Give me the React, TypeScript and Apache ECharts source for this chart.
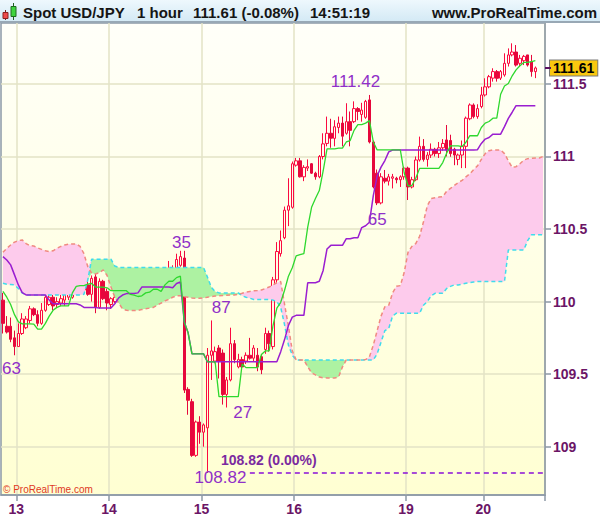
import React, { useEffect, useRef } from 'react';
import * as echarts from 'echarts';

const FF = '"Liberation Sans", Arial, Helvetica, sans-serif';

// ---- axis / category data ----
const slotCount = 141;
const dayLabels = ['13', '14', '15', '16', '19', '20'];
const dayStartIndex = [4, 28, 52, 76, 105, 125];
const yTicks = [109, 109.5, 110, 110.5, 111, 111.5];

// ---- hourly candles ----
const opens = [
  110.01, 109.83, 109.83, 109.75, 109.69, 109.78, 109.82, 109.87, 109.95, 109.91,
  109.85, 109.94, 109.98, 110.03, 109.98, 109.99, 110.01, 110.03, 110.03, 110.25,
  110.16, 110.08, 110.115, 110.05, 110.17, 109.96, 110.14, 110.07, 109.98, 110.0,
  110.01, 110.09, 110.07, 110.08, 110.06, 110.09, 110.07, 110.08, 110.06, 110.1,
  110.07, 110.05, 110.05, 110.18, 110.19, 110.22, 110.25, 110.3, 109.395, 109.31,
  108.94, 109.17, 109.1, 109.13, 109.63, 109.59, 109.68, 109.645, 109.36, 109.46,
  109.71, 109.55, 109.6, 109.59, 109.63, 109.61, 109.63, 109.62, 109.67, 109.78,
  109.69, 110.15, 110.33, 110.44, 110.63, 110.65, 110.94, 110.97, 110.86, 110.92,
  110.95, 110.885, 110.86, 111.0, 111.09, 111.16, 111.125, 111.2, 111.23, 111.16,
  111.24, 111.24, 111.33, 111.29, 111.27, 111.39, 111.1, 110.885, 110.68, 110.85,
  110.83, 110.85, 110.85, 110.84, 110.86, 110.92, 110.79, 110.84, 110.976, 111.07,
  110.98, 111.01, 111.05, 111.02, 111.06, 111.114, 111.11, 111.05, 110.98, 111.01,
  111.07, 111.26, 111.355, 111.275, 111.344, 111.424, 111.48, 111.54, 111.585, 111.54,
  111.562, 111.642, 111.7, 111.72, 111.642, 111.66, 111.7, 111.653, 111.585,
];
const closes = [
  109.85, 109.79, 109.74, 109.69, 109.78, 109.88, 109.88, 109.95, 109.91, 109.85,
  109.94, 110.03, 110.03, 109.97, 110.0, 110.02, 110.05, 110.05, 110.25, 110.16,
  110.09, 110.115, 110.05, 110.16, 109.96, 110.14, 110.02, 109.99, 110.02, 110.03,
  110.08, 110.07, 110.09, 110.06, 110.09, 110.07, 110.08, 110.06, 110.1, 110.07,
  110.1, 110.09, 110.18, 110.22, 110.22, 110.29, 110.31, 109.39, 109.32, 108.94,
  109.17, 109.1, 109.15, 109.63, 109.66, 109.655, 109.59, 109.36, 109.46, 109.71,
  109.6, 109.6, 109.55, 109.63, 109.61, 109.68, 109.55, 109.53, 109.78, 109.71,
  110.15, 110.345, 110.42, 110.63, 110.66, 110.95, 110.97, 110.86, 110.925, 110.93,
  110.885, 110.86, 111.0, 111.087, 111.16, 111.126, 111.205, 111.23, 111.14, 111.24,
  111.18, 111.33, 111.31, 111.32, 111.38, 111.1, 110.79, 110.68, 110.86, 110.83,
  110.86, 110.86, 110.84, 110.86, 110.92, 110.79, 110.84, 110.976, 111.07, 110.98,
  111.01, 111.05, 111.02, 111.06, 111.09, 111.045, 111.02, 111.01, 111.01, 111.07,
  111.264, 111.355, 111.275, 111.33, 111.424, 111.48, 111.55, 111.585, 111.539, 111.585,
  111.642, 111.7, 111.72, 111.63, 111.677, 111.69, 111.63, 111.585, 111.61,
];
const highs = [
  110.06, 109.9, 109.89, 109.8, 109.85, 109.92, 109.9, 109.97, 109.96, 109.94,
  109.99, 110.07, 110.115, 110.07, 110.03, 110.05, 110.07, 110.06, 110.28, 110.27,
  110.18, 110.13, 110.14, 110.18, 110.23, 110.16, 110.15, 110.09, 110.03, 110.05,
  110.115, 110.1, 110.1, 110.11, 110.13, 110.12, 110.1, 110.1, 110.13, 110.14,
  110.12, 110.1, 110.23, 110.28, 110.25, 110.33, 110.35, 110.35, 109.41, 109.33,
  109.18, 109.21, 109.16, 109.68, 109.87, 109.69, 109.7, 109.67, 109.48, 109.82,
  109.735, 109.64, 109.62, 109.65, 109.75, 109.7, 109.68, 109.63, 109.82, 109.8,
  110.17, 110.41, 110.49, 110.655, 110.85, 110.965, 110.99, 110.99, 110.94, 110.98,
  110.955, 110.895, 111.01, 111.16, 111.275, 111.26, 111.25, 111.275, 111.275, 111.367,
  111.31, 111.38, 111.34, 111.37, 111.39, 111.424, 111.11, 110.91, 110.885, 110.907,
  110.88, 110.88, 110.86, 110.87, 110.93, 110.93, 110.86, 111.0, 111.137, 111.12,
  111.03, 111.09, 111.06, 111.1, 111.12, 111.217, 111.15, 111.06, 111.02, 111.11,
  111.275, 111.366, 111.366, 111.36, 111.48, 111.539, 111.562, 111.608, 111.596, 111.596,
  111.711, 111.745, 111.78, 111.768, 111.7, 111.7, 111.7, 111.7, 111.62,
];
const lows = [
  109.78, 109.78, 109.72, 109.63, 109.69, 109.77, 109.81, 109.85, 109.9, 109.83,
  109.84, 109.93, 109.97, 109.94, 109.96, 109.97, 109.97, 110.01, 110.02, 110.09,
  110.08, 110.07, 110.04, 110.0, 109.92, 109.95, 110.01, 109.94, 109.95, 109.99,
  110.0, 110.05, 110.06, 110.04, 110.05, 110.05, 110.04, 110.03, 110.05, 110.05,
  110.06, 110.0, 110.03, 110.17, 110.18, 110.22, 110.24, 109.37, 109.22, 108.93,
  108.93, 109.02, 109.0, 108.82, 109.46, 109.575, 109.47, 109.29, 109.27, 109.45,
  109.575, 109.54, 109.54, 109.57, 109.6, 109.59, 109.52, 109.5, 109.64, 109.655,
  109.67, 110.035, 110.31, 110.43, 110.52, 110.64, 110.93, 110.855, 110.83, 110.9,
  110.88, 110.84, 110.85, 110.98, 111.07, 111.06, 111.07, 111.16, 111.07, 111.15,
  111.07, 111.23, 111.25, 111.24, 111.26, 111.09, 110.78, 110.665, 110.67, 110.815,
  110.8, 110.78, 110.815, 110.79, 110.84, 110.7, 110.78, 110.83, 110.965, 110.965,
  110.93, 110.99, 111.0, 110.99, 111.04, 111.0, 110.998, 110.94, 110.94, 110.92,
  110.92, 111.25, 111.263, 111.26, 111.332, 111.413, 111.47, 111.516, 111.516, 111.527,
  111.55, 111.62, 111.69, 111.62, 111.62, 111.63, 111.62, 111.55, 111.54,
];

// ---- Ichimoku lines ----
const tenkan = [
  110.07, 110.03, 109.98, 109.91, 109.86, 109.846, 109.846, 109.846, 109.845, 109.81,
  109.81, 109.85, 109.9, 109.94, 109.96, 109.97, 109.97, 109.97, 110.06, 110.105,
  110.11, 110.11, 110.12, 110.125, 110.1, 110.1, 110.1, 110.095, 110.075, 110.075,
  110.075, 110.075, 110.075, 110.05, 110.045, 110.035, 110.04, 110.06, 110.065, 110.085,
  110.085, 110.07, 110.115, 110.14, 110.14, 110.165, 110.175, 109.86, 109.785, 109.64,
  109.64, 109.64, 109.64, 109.585, 109.585, 109.585, 109.345, 109.345, 109.345, 109.345,
  109.345, 109.345, 109.57, 109.545, 109.545, 109.545, 109.545, 109.635, 109.66, 109.66,
  109.835, 109.955, 109.995, 110.078, 110.175, 110.233, 110.315, 110.323, 110.33, 110.513,
  110.65, 110.71, 110.765, 110.9, 111.053, 111.053, 111.053, 111.058, 111.058, 111.1,
  111.11, 111.18, 111.22, 111.22, 111.23, 111.247, 111.1, 111.045, 111.045, 111.045,
  111.045, 111.045, 111.045, 111.045, 110.888, 110.798, 110.8, 110.85, 110.918, 110.918,
  110.918, 110.918, 110.918, 110.918, 110.958, 111.023, 111.073, 111.073, 111.073, 111.068,
  111.098, 111.143, 111.143, 111.143, 111.2, 111.23, 111.241, 111.264, 111.264, 111.429,
  111.486, 111.503, 111.556, 111.597, 111.625, 111.648, 111.648, 111.654, 111.66,
];
const kijun = [
  110.31, 110.287, 110.253, 110.184, 110.115, 110.062, 110.046, 110.046, 110.046, 110.046,
  110.046, 110.046, 110.01, 109.985, 109.985, 109.985, 109.985, 109.985, 109.985, 109.985,
  109.977, 109.96, 109.96, 109.96, 109.96, 109.955, 109.955, 109.955, 109.955, 109.985,
  110.025, 110.045, 110.055, 110.055, 110.055, 110.06, 110.1, 110.1, 110.1, 110.1,
  110.1, 110.1, 110.1, 110.1, 110.095, 110.125, 110.135, 109.86, 109.785, 109.64,
  109.64, 109.64, 109.64, 109.585, 109.585, 109.585, 109.585, 109.585, 109.585, 109.585,
  109.585, 109.585, 109.585, 109.585, 109.585, 109.585, 109.585, 109.585, 109.585, 109.585,
  109.585, 109.585, 109.655, 109.738, 109.835, 109.893, 109.905, 109.905, 109.905, 110.13,
  110.13, 110.13, 110.14, 110.215, 110.3625, 110.3875, 110.3875, 110.3875, 110.3875, 110.4335,
  110.4335, 110.44, 110.44, 110.51, 110.5225, 110.547, 110.73, 110.867, 110.927, 110.972,
  111.032, 111.045, 111.045, 111.045, 111.045, 111.045, 111.045, 111.045, 111.045, 111.045,
  111.045, 111.045, 111.045, 111.045, 111.045, 111.045, 111.045, 111.045, 111.045, 111.045,
  111.045, 111.045, 111.045, 111.047, 111.09, 111.12, 111.131, 111.154, 111.154, 111.154,
  111.2055, 111.2625, 111.305, 111.35, 111.35, 111.35, 111.35, 111.35, 111.35,
];
const senkouA = [
  110.126, 110.12, 110.118, 110.115, 110.09, 110.06, 110.046, 110.046, 110.046, 110.046,
  110.046, 110.046, 110.046, 110.046, 110.046, 110.046, 110.046, 110.046, 110.046, 110.046,
  110.046, 110.05, 110.15, 110.292, 110.292, 110.292, 110.292, 110.292, 110.292, 110.245,
  110.235, 110.235, 110.235, 110.235, 110.235, 110.235, 110.235, 110.235, 110.235, 110.235,
  110.235, 110.235, 110.235, 110.235, 110.235, 110.235, 110.235, 110.235, 110.235, 110.235,
  110.235, 110.235, 110.235, 110.17, 110.1, 110.069, 110.06, 110.06, 110.06, 110.06,
  110.06, 110.06, 110.04, 110.03, 110.023, 110.015, 110.015, 110.015, 110.015, 110.015,
  110.01, 110.0, 109.96, 109.84, 109.7, 109.63, 109.598, 109.598, 109.598, 109.598,
  109.598, 109.598, 109.598, 109.598, 109.598, 109.598, 109.598, 109.598, 109.598, 109.598,
  109.598, 109.598, 109.598, 109.598, 109.598, 109.598, 109.598, 109.64, 109.72, 109.8,
  109.815, 109.9, 109.92, 109.92, 109.92, 109.92, 109.92, 109.92, 109.92, 109.975,
  110.0, 110.04, 110.057, 110.057, 110.057, 110.09, 110.105, 110.115, 110.115, 110.12,
  110.126, 110.13, 110.135, 110.138, 110.138, 110.138, 110.138, 110.138, 110.138, 110.138,
  110.138, 110.356, 110.356, 110.356, 110.356, 110.356, 110.42, 110.46, 110.46, 110.46,
  110.46,
];
const senkouB = [
  110.34, 110.367, 110.39, 110.41, 110.42, 110.425, 110.4, 110.385, 110.383, 110.37,
  110.36, 110.35, 110.345, 110.35, 110.367, 110.38, 110.39, 110.395, 110.397, 110.397,
  110.38, 110.33, 110.24, 110.195, 110.19, 110.2, 110.218, 110.18, 110.1, 110.03,
  109.99, 109.95, 109.94, 109.938, 109.938, 109.94, 109.945, 109.95, 109.955, 109.96,
  109.975, 109.99, 110.005, 110.015, 110.03, 110.04, 110.04, 110.034, 110.03, 110.025,
  110.023, 110.023, 110.025, 110.03, 110.035, 110.038, 110.04, 110.042, 110.043, 110.045,
  110.046, 110.05, 110.057, 110.066, 110.07, 110.074, 110.076, 110.08, 110.09, 110.1,
  110.115, 110.13, 110.138, 109.98, 109.83, 109.66, 109.598, 109.598, 109.598, 109.55,
  109.51, 109.495, 109.48, 109.475, 109.474, 109.474, 109.474, 109.48, 109.55, 109.598,
  109.598, 109.598, 109.598, 109.598, 109.6, 109.62, 109.7, 109.8, 109.9, 109.965,
  109.975, 110.06, 110.105, 110.11, 110.2, 110.34, 110.38, 110.4, 110.45, 110.55,
  110.66, 110.71, 110.715, 110.72, 110.723, 110.76, 110.78, 110.8, 110.82, 110.835,
  110.86, 110.88, 110.91, 110.935, 110.98, 111.02, 111.04, 111.045, 111.045, 111.045,
  111.02, 110.97, 110.925, 110.93, 110.95, 110.975, 110.985, 110.987, 110.99, 110.99,
  111.0,
];

// ---- annotations ----
const extremeIndex = [3, 46, 54, 58, 95, 97, 53];
const extremeValue = [109.63, 110.35, 109.87, 109.27, 111.42, 110.65, 108.82];
const extremeText = ['63', '35', '87', '27', '111.42', '65', '108.82'];
const lastPrice = 111.61;
const lowLevel = 108.82;
const lowLevelText = '108.82 (0.00%)';
const lowLevelStart = 64;
const headerTexts = ['Spot USD/JPY', '1 hour', '111.61 (-0.08%)', '14:51:19'];

// layout only (pixel offsets of labels from their anchor points)
const extremeOffset = [[-3, 13], [1, -8], [10, -13], [16, 5], [-14, -14], [0, 12], [13, 5]];
const headerX = [23, 137, 193, 310];

export default function App() {
  const ref = useRef<HTMLDivElement>(null);

  useEffect(() => {
    if (!ref.current) return;
    const chart = echarts.init(ref.current, undefined, { renderer: 'svg' });

    const categories = Array.from({ length: slotCount }, (_, i) => {
      const k = dayStartIndex.indexOf(i);
      return k >= 0 ? dayLabels[k] : '';
    });
    const isDay = (i: number) => dayStartIndex.includes(i);
    const candles = opens.map((o, i) => [o, closes[i], lows[i], highs[i]]);
    const cloudBase = senkouA.map((a, i) => Math.min(a, senkouB[i]));
    const cloudGreen = senkouA.map((a, i) => Math.max(a - senkouB[i], 0));
    const cloudPink = senkouA.map((a, i) => Math.max(senkouB[i] - a, 0));

    const axisGray = '#8c99a6';
    const gridLine = '#e3e3c6';
    const labelColor = '#6b1566';
    const clear = 'rgba(0,0,0,0)';

    const baseGraphic: any[] = [
      {
        type: 'rect', z: 10, silent: true,
        shape: { x: 0, y: 0, width: 600, height: 22 },
        style: {
          fill: {
            type: 'linear', x: 0, y: 0, x2: 0, y2: 1,
            colorStops: [
              { offset: 0, color: '#eef8fd' },
              { offset: 1, color: '#d3e9f5' },
            ],
          },
        },
      },
      {
        type: 'line', z: 11, silent: true,
        shape: { x1: 0, y1: 22, x2: 600, y2: 22 },
        style: { stroke: '#98a8b5', lineWidth: 2 },
      },
      { type: 'line', z: 11, shape: { x1: 5.5, y1: 10, x2: 5.5, y2: 20 }, style: { stroke: '#7a2020', lineWidth: 1 } },
      { type: 'rect', z: 12, shape: { x: 3, y: 12.5, width: 5, height: 6 }, style: { fill: '#ee4a4a', stroke: '#8a2020', lineWidth: 1 } },
      { type: 'line', z: 11, shape: { x1: 13.5, y1: 3, x2: 13.5, y2: 20 }, style: { stroke: '#206020', lineWidth: 1 } },
      { type: 'rect', z: 12, shape: { x: 11, y: 6.5, width: 5, height: 10 }, style: { fill: '#3ed43e', stroke: '#1f6a1f', lineWidth: 1 } },
      ...headerTexts.map((t, k) => ({
        type: 'text', z: 12, x: headerX[k], y: 12,
        style: { text: t, font: `bold 15px ${FF}`, fill: '#151515', verticalAlign: 'middle' },
      })),
      {
        type: 'text', z: 12, x: 597, y: 12,
        style: { text: 'www.ProRealTime.com', font: `bold 15px ${FF}`, fill: '#151515', align: 'right', verticalAlign: 'middle' },
      },
      {
        type: 'text', z: 12, x: 3, y: 489,
        style: { text: '© ProRealTime.com', font: `10px ${FF}`, fill: '#e0391f', verticalAlign: 'middle' },
      },
    ];

    chart.setOption({
      animation: false,
      grid: {
        left: 1, right: 55, top: 23, bottom: 24,
        show: true,
        borderColor: axisGray,
        borderWidth: 1.5,
        backgroundColor: {
          type: 'linear', x: 0, y: 0, x2: 0, y2: 1,
          colorStops: [
            { offset: 0, color: '#fffff9' },
            { offset: 1, color: '#ffffd2' },
          ],
        },
      },
      xAxis: {
        type: 'category',
        data: categories,
        boundaryGap: true,
        axisLine: { show: true, lineStyle: { color: axisGray, width: 1.5 } },
        axisTick: { show: true, length: 6, interval: isDay, lineStyle: { color: axisGray, width: 1.5 } },
        axisLabel: {
          interval: isDay, color: labelColor, fontWeight: 'bold', fontSize: 14,
          fontFamily: FF, margin: 7, padding: [0, 4, 0, 0],
        },
        splitLine: { show: true, interval: isDay, lineStyle: { color: gridLine, width: 1.5 } },
      },
      yAxis: {
        type: 'value',
        position: 'right',
        min: 108.667,
        max: 111.92,
        scale: true,
        axisLine: { show: true, lineStyle: { color: axisGray, width: 1.5 } },
        axisTick: { show: true, length: 6, customValues: yTicks, lineStyle: { color: axisGray, width: 1.5 } },
        axisLabel: {
          customValues: yTicks, color: labelColor, fontWeight: 'bold', fontSize: 14,
          fontFamily: FF, margin: 8, formatter: (v: number) => String(v),
        },
        splitLine: { show: true, lineStyle: { color: gridLine, width: 1.5 } },
      },
      series: [
        {
          type: 'line', data: cloudBase, stack: 'cloud', symbol: 'none', silent: true,
          lineStyle: { opacity: 0 },
        },
        {
          type: 'line', data: cloudGreen, stack: 'cloud', symbol: 'none', silent: true,
          lineStyle: { opacity: 0 }, areaStyle: { color: '#adf2a2', opacity: 1 },
        },
        {
          type: 'line', data: cloudPink, stack: 'cloud', symbol: 'none', silent: true,
          lineStyle: { opacity: 0 }, areaStyle: { color: '#fdcbec', opacity: 1 },
        },
        {
          type: 'line', data: senkouA, symbol: 'none', silent: true,
          lineStyle: { color: '#3fdcec', width: 1.5, type: [4, 3] },
        },
        {
          type: 'line', data: senkouB, symbol: 'none', silent: true,
          lineStyle: { color: '#f08a80', width: 1.5, type: [4, 3] },
        },
        {
          type: 'candlestick',
          data: candles,
          barWidth: 3,
          silent: true,
          itemStyle: {
            color: clear,
            color0: '#e6083c',
            borderColor: '#fb0a40',
            borderColor0: '#e6083c',
            borderWidth: 1,
          },
          markLine: {
            silent: true,
            symbol: ['none', 'none'],
            animation: false,
            data: [
              {
                yAxis: lastPrice,
                lineStyle: { color: clear, width: 0 },
                label: {
                  show: true, position: 'end', distance: 5,
                  formatter: lastPrice.toFixed(2),
                  backgroundColor: '#f9c70f', borderColor: '#7a7a7a', borderWidth: 1,
                  padding: [1, 3, 0, 3], color: '#000', fontWeight: 'bold', fontSize: 14,
                  fontFamily: FF, lineHeight: 14, opacity: 1,
                },
              },
              [
                {
                  coord: [lowLevelStart, lowLevel],
                  lineStyle: { color: '#8a10d8', width: 1.5, type: [5, 4] },
                  label: { show: false },
                },
                { coord: [slotCount - 1, lowLevel] },
              ],
            ],
          },
        },
        {
          type: 'line', data: kijun, symbol: 'none', silent: true,
          lineStyle: { color: '#9a1ed0', width: 1.5 },
        },
        {
          type: 'line', data: tenkan, symbol: 'none', silent: true,
          lineStyle: { color: '#2ed82e', width: 1.3 },
        },
        {
          type: 'scatter', silent: true, symbolSize: 1,
          itemStyle: { color: clear, opacity: 1 },
          data: extremeIndex.map((idx, k) => ({
            value: [idx, extremeValue[k]],
            label: { offset: extremeOffset[k] },
          })),
          label: {
            show: true, position: 'inside',
            formatter: (p: any) => extremeText[p.dataIndex],
            color: '#9030c8', fontSize: 17, fontFamily: FF, lineHeight: 14,
          },
          z: 6,
        },
        {
          type: 'scatter', silent: true, symbolSize: 1,
          itemStyle: { color: clear, opacity: 1 },
          data: [{ value: [lowLevelStart, lowLevel], label: { offset: [19, -13] } }],
          label: {
            show: true, position: 'inside', formatter: lowLevelText,
            color: '#7b2aa0', fontSize: 14, fontWeight: 'bold', fontFamily: FF, lineHeight: 11,
          },
          z: 6,
        },
      ],
      graphic: baseGraphic,
    });

    // small tick at the last price on the price scale, placed through the y axis
    const py = chart.convertToPixel({ yAxisIndex: 0 }, lastPrice) as number;
    chart.setOption({
      graphic: [
        ...baseGraphic,
        {
          type: 'line', z: 12, silent: true,
          shape: { x1: 545, y1: py, x2: 551, y2: py },
          style: { stroke: '#5a1060', lineWidth: 2 },
        },
      ],
    });

    return () => chart.dispose();
  }, []);

  return (
    <div
      ref={ref}
      style={{ position: 'absolute', left: 0, top: 0, width: 600, height: 519, background: '#ffffff' }}
    />
  );
}
